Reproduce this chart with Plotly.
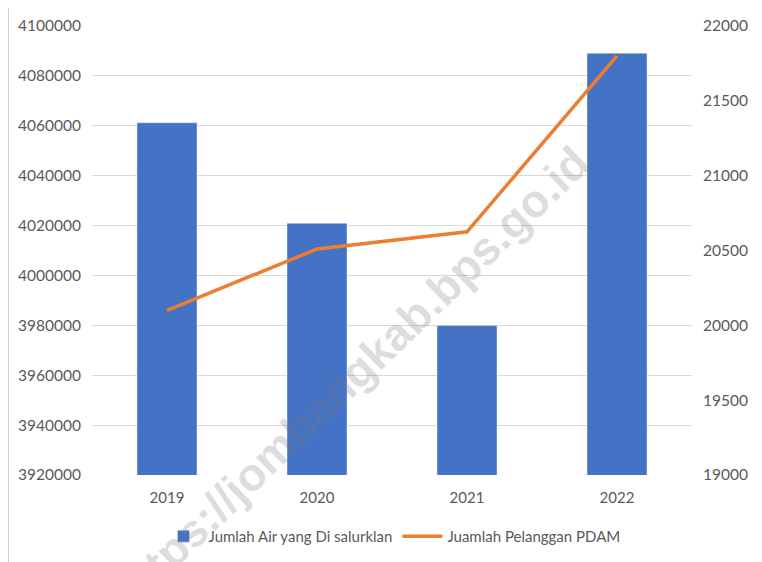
import plotly.graph_objects as go

tahun = ["2019", "2020", "2021", "2022"]
air_disalurkan = [4061200, 4020900, 3979900, 4089100]
pelanggan_pdam = [20100, 20510, 20625, 21800]

left_ticks = [3920000, 3940000, 3960000, 3980000, 4000000, 4020000, 4040000, 4060000, 4080000, 4100000]
right_ticks = [19000, 19500, 20000, 20500, 21000, 21500, 22000]

font_name = "Lato"
grey_text = "#595959"

fig = go.Figure()
fig.add_trace(go.Bar(x=tahun, y=air_disalurkan, name="Jumlah Air yang Di salurklan",
                     marker_color="#4472C4", width=0.4, yaxis="y"))
fig.add_trace(go.Scatter(x=tahun, y=pelanggan_pdam, name="Juamlah Pelanggan PDAM",
                         mode="lines", line=dict(color="#ED7D31", width=3.5), yaxis="y2"))

# page body adds an 8px offset, so margins are trimmed by 8px on left/top
fig.update_layout(
    width=762, height=562,
    margin=dict(l=84, r=78, t=18, b=95),
    paper_bgcolor="white", plot_bgcolor="white",
    font=dict(family=font_name, size=15, color=grey_text),
    bargap=0.6,
    xaxis=dict(showgrid=False, showline=False, ticks="", tickfont=dict(size=15),
               ticklabelstandoff=12, automargin=False),
    yaxis=dict(range=[3920000, 4100000], tickvals=left_ticks, ticktext=[str(v) for v in left_ticks],
               showgrid=True, gridcolor="#D9D9D9", gridwidth=1, zeroline=False,
               ticks="", ticklabelstandoff=10, tickfont=dict(size=15.5), automargin=False),
    yaxis2=dict(range=[19000, 22000], tickvals=right_ticks, ticktext=[str(v) for v in right_ticks],
                overlaying="y", side="right", showgrid=False, zeroline=False,
                ticks="", ticklabelstandoff=10, tickfont=dict(size=15.5), automargin=False),
    legend=dict(orientation="h", x=0.5, xanchor="center", y=-0.1, yanchor="top",
                font=dict(size=15, color=grey_text), itemwidth=40),
    showlegend=True,
)

# chart frame
fig.add_shape(type="rect", xref="paper", yref="paper", x0=-0.14, y0=-0.25, x1=1.2, y1=1.044,
              line=dict(color="#CFCFCF", width=2), layer="below")

# watermark
fig.add_annotation(text="https://jombangkab.bps.go.id", xref="paper", yref="paper",
                   x=(350 - 92) / 600, y=(475 - 378) / 449, xanchor="center", yanchor="middle",
                   showarrow=False, textangle=-44,
                   font=dict(family="Liberation Sans", size=46, color="rgba(120,120,120,0.25)",
                             weight="bold"))

fig.write_html("out.html")
